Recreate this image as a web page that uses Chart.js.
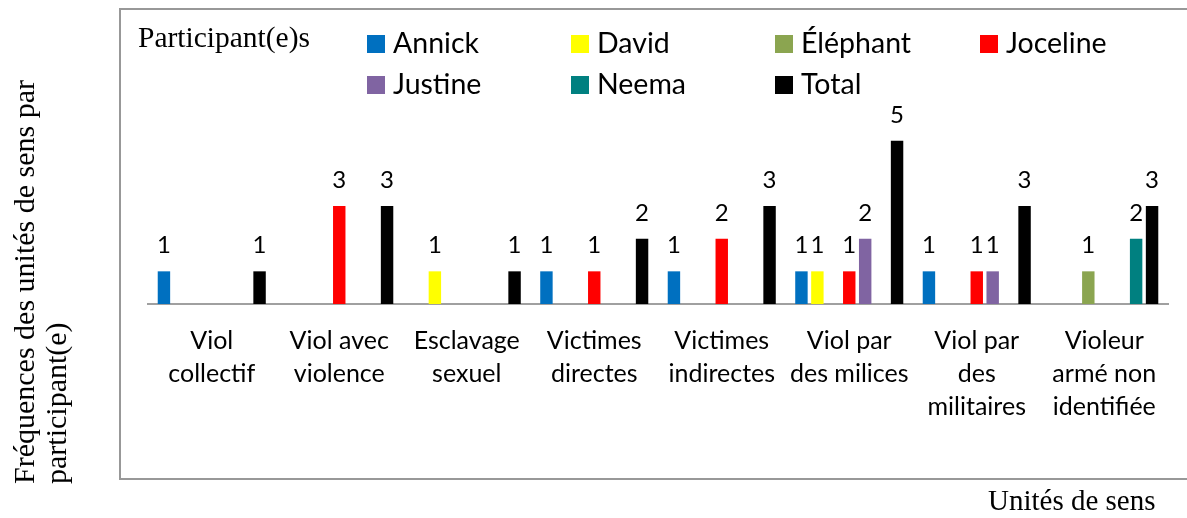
<!DOCTYPE html>
<html>
<head>
<meta charset="utf-8">
<script src="https://cdn.jsdelivr.net/npm/chart.js@4"></script>
<style>
  body { margin: 0; background: #fff; overflow: hidden; }
  #wrap { position: relative; width: 1187px; height: 518px; overflow: hidden; }
  #box { position: absolute; left: 119px; top: 8px; width: 1100px; height: 472px; box-sizing: border-box; border: 2px solid #989898; }
  #chart { position: absolute; left: 0; top: 0; }
  .serif { position: absolute; font-family: "Liberation Serif", "Times New Roman", serif; font-size: 29px; line-height: 28px; color: #000; white-space: pre; }
  #ytitle { left: 8px; top: 484px; font-size: 30px; line-height: 32px; transform-origin: 0 0; transform: rotate(-90deg); }
  #xtitle { left: 988px; top: 486px; }
  #legtitle { left: 138px; top: 23px; font-size: 29.5px; }
  .leg { position: absolute; font-family: Lato, sans-serif; font-size: 28.5px; line-height: 28px; white-space: nowrap; color: #000; }
  .leg span { display: inline-block; width: 18px; height: 18px; margin-right: 8px; vertical-align: baseline; }
</style>
</head>
<body>
<div id="wrap">
  <div id="box"></div>
  <canvas id="chart" width="1187" height="518"></canvas>
  <div id="legend"></div>
  <div class="serif" id="legtitle">Participant(e)s</div>
  <div class="serif" id="ytitle">Fréquences des unités de sens par
participant(e)</div>
  <div class="serif" id="xtitle">Unités de sens</div>
</div>
<script>
// data
const categories = [
  ["Viol", "collectif"],
  ["Viol avec", "violence"],
  ["Esclavage", "sexuel"],
  ["Victimes", "directes"],
  ["Victimes", "indirectes"],
  ["Viol par", "des milices"],
  ["Viol par", "des", "militaires"],
  ["Violeur", "armé non", "identifiée"]
];
const participants = ["Annick", "David", "Éléphant", "Joceline", "Justine", "Neema", "Total"];
const annick   = [1, 0, 0, 1, 1, 1, 1, 0];
const david    = [0, 0, 1, 0, 0, 1, 0, 0];
const elephant = [0, 0, 0, 0, 0, 0, 0, 1];
const joceline = [0, 3, 0, 1, 2, 1, 1, 0];
const justine  = [0, 0, 0, 0, 0, 2, 1, 0];
const neema    = [0, 0, 0, 0, 0, 0, 0, 2];
const total    = [1, 3, 1, 2, 3, 5, 3, 3];
const colors = ["#0070C0", "#FFFF00", "#8BA550", "#FF0000", "#8064A2", "#008080", "#000000"];
const yMin = 0, yMax = 6;

const series = [annick, david, elephant, joceline, justine, neema, total];

// legend (html), 4 columns x 2 rows like the original
const legCols = [367, 571, 775, 980];
const legRows = [28, 69];
const legend = document.getElementById('legend');
participants.forEach((p, i) => {
  const d = document.createElement('div');
  d.className = 'leg';
  d.style.left = legCols[i % 4] + 'px';
  d.style.top = legRows[Math.floor(i / 4)] + 'px';
  d.innerHTML = '<span style="background:' + colors[i] + '"></span>' + p;
  legend.appendChild(d);
});

// numbers above the bars
const valueLabels = {
  id: 'valueLabels',
  afterDatasetsDraw(chart) {
    const ctx = chart.ctx;
    ctx.save();
    ctx.font = '24px Lato';
    ctx.fillStyle = '#000';
    ctx.textAlign = 'center';
    ctx.textBaseline = 'alphabetic';
    chart.data.datasets.forEach((ds, i) => {
      chart.getDatasetMeta(i).data.forEach((bar, j) => {
        const v = ds.data[j];
        if (!v) return;
        ctx.fillText(String(v), bar.x, bar.y - 18);
      });
    });
    ctx.restore();
  }
};

function draw() {
  new Chart(document.getElementById('chart'), {
    type: 'bar',
    data: {
      labels: categories,
      datasets: participants.map((p, i) => ({
        label: p,
        data: series[i],
        backgroundColor: colors[i],
        borderWidth: 0,
        categoryPercentage: 0.875,
        barPercentage: 0.78
      }))
    },
    options: {
      responsive: false,
      animation: false,
      layout: { padding: { left: 148, right: 19, top: 108, bottom: 0 } },
      plugins: { legend: { display: false }, tooltip: { enabled: false } },
      scales: {
        x: {
          grid: { display: false, drawTicks: false },
          border: { display: true, color: '#a0a0a0', width: 2 },
          ticks: {
            color: '#000',
            font: { family: 'Lato', size: 25, lineHeight: 1.32 },
            padding: 20,
            maxRotation: 0,
            autoSkip: false
          },
          afterFit(scale) { scale.height = 214; }
        },
        y: { display: false, min: yMin, max: yMax }
      }
    },
    plugins: [valueLabels]
  });
}

document.fonts.load('24px Lato').then(draw, draw);
</script>
</body>
</html>
